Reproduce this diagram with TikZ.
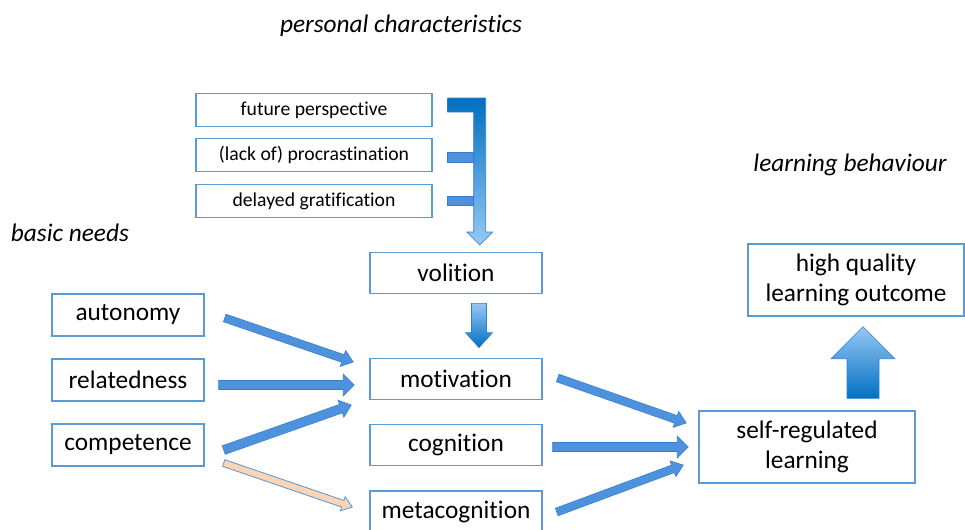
\documentclass[tikz,border=0pt]{standalone}
\usepackage{fontspec}
\setmainfont{Carlito}[Ligatures=NoCommon]
\usetikzlibrary{calc}
\usetikzlibrary{positioning}
\definecolor{boxblue}{RGB}{91,155,213}
\definecolor{arrowdark}{RGB}{0,112,192}
\definecolor{arrowmid}{RGB}{78,146,222}
\definecolor{arrowline}{RGB}{55,125,205}
\definecolor{arrowlight}{RGB}{150,200,245}
\definecolor{peach}{RGB}{251,213,181}

\tikzset{
  bigbox/.style={draw=boxblue, line width=1pt, fill=white, align=center,
    font=\fontsize{18}{21.5}\selectfont},
  smallbox/.style={draw=boxblue, line width=1pt, fill=white,
    minimum width=5.9cm, minimum height=0.82cm, font=\fontsize{14}{16}\selectfont},
  heading/.style={font=\fontsize{18}{20}\selectfont\itshape},
  bluearrow/.style={draw=arrowline, line width=0.4pt, fill=arrowmid},
  fadearrow/.style={draw=arrowline, line width=0.4pt,
    top color=arrowlight, bottom color=arrowdark},
  peacharrow/.style={draw=boxblue, line width=0.6pt, fill=peach}
}

% #1 style, #2 tail, #3 tip, #4 half shaft, #5 half head, #6 head length
\newcommand{\blockarrow}[6]{%
  \coordinate (ba-h) at ($(#3)!#6!(#2)$);
  \path[#1] ($(#2)!#4!90:(#3)$) -- ($(ba-h)!#4!90:(#3)$) -- ($(ba-h)!#5!90:(#3)$)
    -- (#3) -- ($(ba-h)!#5!-90:(#3)$) -- ($(ba-h)!#4!-90:(#3)$)
    -- ($(#2)!#4!-90:(#3)$) -- cycle;
}

\begin{document}
\begin{tikzpicture}[x=0.025cm, y=-0.025cm]
  \useasboundingbox (0,0) rectangle (965,529);

  \node[heading] (pc) at (401,26) {personal characteristics};
  \node[heading] (lb) at (850,165) {learning behaviour};
  \node[heading, anchor=west] (bn) at (6,233) {basic needs};

  \node[smallbox] (future) at (314,110) {future perspective};
  \node[smallbox] (procr) at (314,155) {(lack of) procrastination};
  \node[smallbox] (delayed) at (314,201) {delayed gratification};

  \node[bigbox, minimum width=3.8cm, minimum height=1.05cm] (autonomy) at (128,315) {autonomy};
  \node[bigbox, minimum width=3.8cm, minimum height=1.05cm] (related) at (128,380) {relatedness};
  \node[bigbox, minimum width=3.8cm, minimum height=1.05cm] (compet) at (128,445) {competence};

  \node[bigbox, minimum width=4.3cm, minimum height=1.03cm] (volition) at (456,273) {volition};
  \node[bigbox, minimum width=4.3cm, minimum height=1.03cm] (motiv) at (456,379) {motivation};
  \node[bigbox, minimum width=4.3cm, minimum height=1.03cm] (cogn) at (456,445) {cognition};
  \node[bigbox, minimum width=4.3cm, minimum height=1.05cm] (meta) at (456,512) {metacognition};

  \node[bigbox, minimum width=5.4cm, minimum height=1.8cm] (srl) at (807,447) {self-regulated\\learning};
  \node[bigbox, minimum width=5.4cm, minimum height=1.8cm] (hq) at (856,280) {high quality\\learning outcome};

  % bracket from the characteristics down to volition
  \path[top color=arrowdark, bottom color=arrowlight, draw=arrowline, line width=0.4pt]
    ($(future.east)+(15,-12)$) -- ++(38,0) -- ++(0,134) -- ++(7,0) -- ++(-13,13)
    -- ++(-13,-13) -- ++(7,0) -- ++(0,-120) -- ++(-26,0) -- cycle;
  \path[bluearrow] ($(procr.east)+(15,-3)$) rectangle ++(26,10);
  \path[bluearrow] ($(delayed.east)+(15,-5)$) rectangle ++(26,9);

  \coordinate (vo-s) at ($(volition.south)+(23,9)$);
  \coordinate (mo-n) at ($(motiv.north)+(23,-10)$);
  \blockarrow{fadearrow}{vo-s}{mo-n}{7.5*0.025cm}{13.5*0.025cm}{15*0.025cm}

  \coordinate (au-e) at ($(autonomy.east)+(20,3)$);
  \coordinate (mo-a) at ($(motiv.west)+(-16,-17)$);
  \blockarrow{bluearrow}{au-e}{mo-a}{4*0.025cm}{8.5*0.025cm}{11*0.025cm}

  \coordinate (re-e) at ($(related.east)+(14,5)$);
  \coordinate (mo-r) at ($(motiv.west)+(-15,6)$);
  \blockarrow{bluearrow}{re-e}{mo-r}{4.5*0.025cm}{11*0.025cm}{11*0.025cm}

  \coordinate (co-e) at ($(compet.east)+(19,5)$);
  \coordinate (mo-c) at ($(motiv.west)+(-18,26)$);
  \blockarrow{bluearrow}{co-e}{mo-c}{4.5*0.025cm}{9*0.025cm}{11*0.025cm}

  \coordinate (co-f) at ($(compet.east)+(19,18)$);
  \coordinate (me-w) at ($(meta.west)+(-17,-5)$);
  \blockarrow{peacharrow}{co-f}{me-w}{3.5*0.025cm}{7.5*0.025cm}{10*0.025cm}

  \coordinate (mo-e) at ($(motiv.east)+(15,-1)$);
  \coordinate (sr-a) at ($(srl.west)+(-12,-24)$);
  \blockarrow{bluearrow}{mo-e}{sr-a}{4*0.025cm}{8.5*0.025cm}{11*0.025cm}

  \coordinate (cg-e) at ($(cogn.east)+(10,2)$);
  \coordinate (sr-b) at ($(srl.west)+(-10,0)$);
  \blockarrow{bluearrow}{cg-e}{sr-b}{4.5*0.025cm}{11*0.025cm}{11*0.025cm}

  \coordinate (me-e) at ($(meta.east)+(14,0)$);
  \coordinate (sr-c) at ($(srl.west)+(-15,18)$);
  \blockarrow{bluearrow}{me-e}{sr-c}{4*0.025cm}{8.5*0.025cm}{11*0.025cm}

  \coordinate (sr-n) at ($(srl.north)+(56,-12)$);
  \coordinate (hq-s) at ($(hq.south)+(7,10)$);
  \blockarrow{fadearrow}{sr-n}{hq-s}{16*0.025cm}{32*0.025cm}{32*0.025cm}

\end{tikzpicture}
\end{document}
